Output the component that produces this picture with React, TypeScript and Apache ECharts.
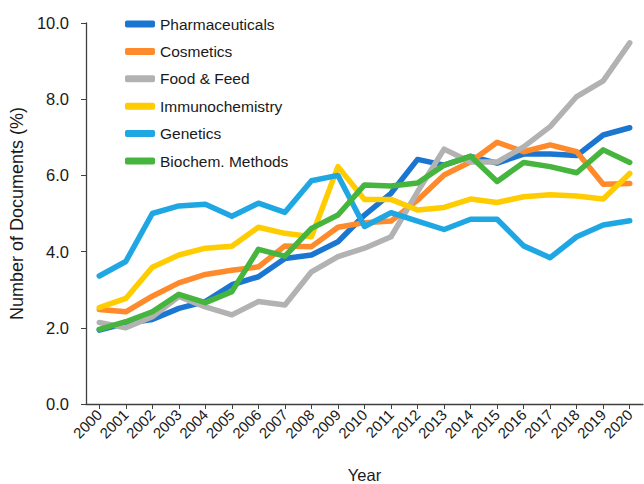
import React, { useEffect, useRef } from "react";
import * as echarts from "echarts";

const years = ["2000","2001","2002","2003","2004","2005","2006","2007","2008","2009","2010","2011","2012","2013","2014","2015","2016","2017","2018","2019","2020"];
const pharmaceuticals = [1.94, 2.12, 2.22, 2.51, 2.69, 3.13, 3.34, 3.82, 3.91, 4.26, 4.96, 5.53, 6.42, 6.27, 6.5, 6.32, 6.56, 6.56, 6.52, 7.06, 7.25];
const cosmetics = [2.48, 2.42, 2.83, 3.18, 3.4, 3.51, 3.6, 4.15, 4.13, 4.64, 4.76, 4.8, 5.35, 6.01, 6.36, 6.87, 6.62, 6.8, 6.62, 5.77, 5.79];
const foodFeed = [2.14, 2.0, 2.29, 2.82, 2.55, 2.34, 2.69, 2.6, 3.47, 3.87, 4.09, 4.39, 5.57, 6.69, 6.35, 6.35, 6.75, 7.28, 8.07, 8.48, 9.48];
const immunochemistry = [2.53, 2.77, 3.59, 3.91, 4.09, 4.14, 4.64, 4.48, 4.39, 6.23, 5.37, 5.37, 5.09, 5.16, 5.38, 5.29, 5.44, 5.49, 5.46, 5.38, 6.05];
const genetics = [3.36, 3.74, 5.0, 5.2, 5.24, 4.93, 5.27, 5.03, 5.86, 6.0, 4.66, 5.02, 4.8, 4.58, 4.85, 4.85, 4.15, 3.84, 4.39, 4.7, 4.81];
const biochemMethods = [1.96, 2.16, 2.42, 2.88, 2.66, 2.95, 4.06, 3.88, 4.61, 4.96, 5.75, 5.72, 5.8, 6.27, 6.5, 5.84, 6.34, 6.23, 6.07, 6.67, 6.34];

const seriesNames = ["Pharmaceuticals", "Cosmetics", "Food & Feed", "Immunochemistry", "Genetics", "Biochem. Methods"];
const seriesData = [pharmaceuticals, cosmetics, foodFeed, immunochemistry, genetics, biochemMethods];
const colors = ["#1B76D2", "#FF8A2C", "#B2B2B2", "#FFCC00", "#1FA7E4", "#45B53D"];

const FONT = "Liberation Sans, Arial, sans-serif";

export default function App() {
  const ref = useRef<HTMLDivElement>(null);
  useEffect(() => {
    if (!ref.current) return;
    const chart = echarts.init(ref.current, undefined, { renderer: "svg" });
    chart.setOption({
      animation: false,
      backgroundColor: "#ffffff",
      textStyle: { fontFamily: FONT },
      grid: { left: 86, right: 1, top: 23, bottom: 80, containLabel: false, outerBoundsMode: "none" },
      legend: {
        orient: "vertical",
        left: 120,
        top: 10,
        itemWidth: 30,
        itemHeight: 7,
        itemGap: 9.4,
        icon: "roundRect",
        data: seriesNames,
        textStyle: { fontSize: 15.5, color: "#1a1a1a", fontFamily: FONT, lineHeight: 18 },
      },
      xAxis: {
        type: "category",
        data: years,
        boundaryGap: true,
        name: "Year",
        nameLocation: "middle",
        nameGap: 62,
        nameTextStyle: { fontSize: 16.5, color: "#1a1a1a", lineHeight: 17 },
        axisLine: { lineStyle: { color: "#404040", width: 1.3 } },
        axisTick: { show: true, alignWithLabel: true, length: 5, lineStyle: { color: "#404040" } },
        axisLabel: { interval: 0, rotate: 45, fontSize: 15, color: "#1a1a1a", margin: 8 },
      },
      yAxis: {
        type: "value",
        min: 0,
        max: 10,
        interval: 2,
        name: "Number of Documents (%)",
        nameLocation: "middle",
        nameGap: 58,
        nameTextStyle: { fontSize: 18, color: "#1a1a1a" },
        splitLine: { show: false },
        axisLine: { show: true, lineStyle: { color: "#404040", width: 1.3 } },
        axisTick: { show: true, length: 5, lineStyle: { color: "#404040" } },
        axisLabel: { fontSize: 16.5, color: "#1a1a1a", margin: 17, formatter: (v: number) => v.toFixed(1) },
      },
      series: seriesNames.map((name, i) => ({
        name,
        type: "line",
        data: seriesData[i],
        symbol: "none",
        color: colors[i],
        lineStyle: { width: 5.5, color: colors[i], cap: "round", join: "round" },
      })),
    });
    return () => chart.dispose();
  }, []);
  return <div ref={ref} style={{ width: 644, height: 484, position: "absolute", left: 0, top: 0 }} />;
}
